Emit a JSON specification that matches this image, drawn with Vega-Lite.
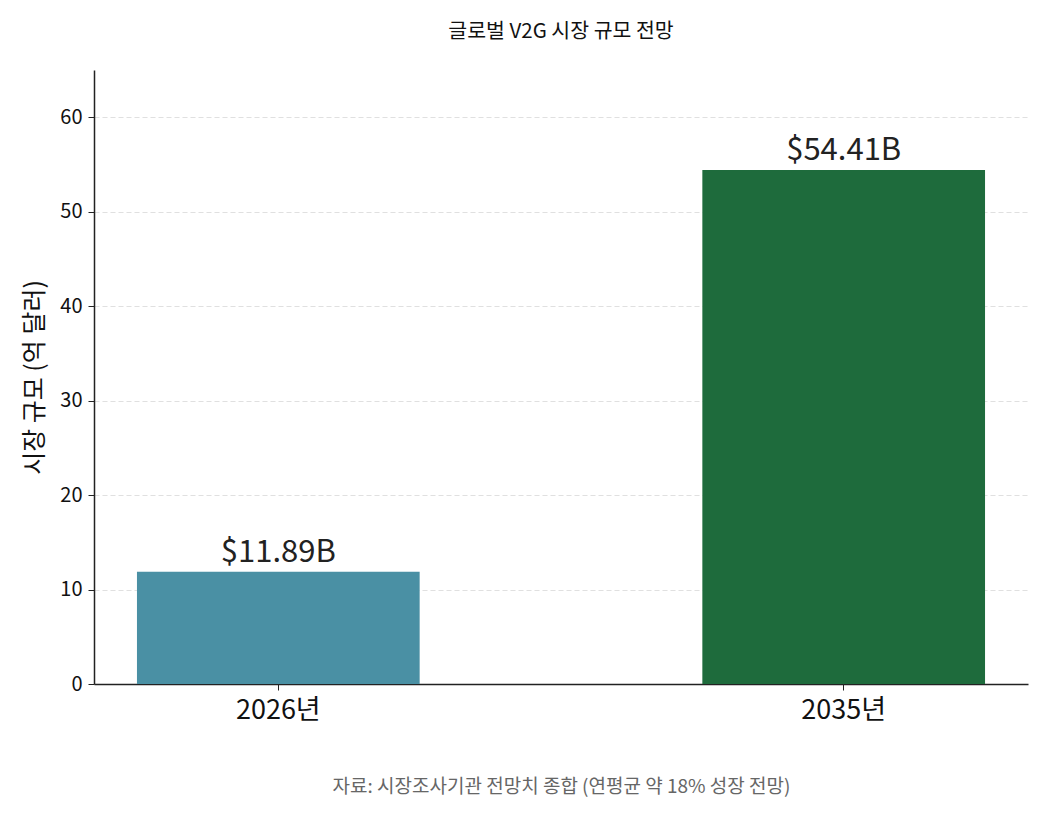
{
  "$schema": "https://vega.github.io/schema/vega-lite/v6.json",
  "autosize": "none",
  "width": 934,
  "height": 614,
  "padding": {"left": 94, "top": 70, "right": 22, "bottom": 141},
  "background": "white",
  "config": {
    "font": "Noto Sans CJK KR",
    "view": {"stroke": null}
  },
  "title": {
    "text": "글로벌 V2G 시장 규모 전망",
    "fontSize": 20.5,
    "fontWeight": "normal",
    "color": "#111111",
    "anchor": "middle",
    "frame": "group",
    "offset": 28
  },
  "data": {
    "values": [
      {"year": "2026년", "value": 11.89, "label": "$11.89B"},
      {"year": "2035년", "value": 54.41, "label": "$54.41B"}
    ]
  },
  "encoding": {
    "x": {
      "field": "year",
      "type": "nominal",
      "sort": null,
      "scale": {"paddingInner": 0.5, "paddingOuter": 0.076},
      "axis": {
        "title": "자료: 시장조사기관 전망치 종합 (연평균 약 18% 성장 전망)",
        "titleFontSize": 19,
        "titleFontWeight": "normal",
        "titleColor": "#666666",
        "titlePadding": 54,
        "labelAngle": 0,
        "labelFontSize": 27,
        "labelColor": "#111111",
        "labelPadding": 7,
        "tickSize": 6,
        "tickColor": "#222222",
        "domainColor": "#222222",
        "domainWidth": 1.5,
        "grid": false
      }
    },
    "y": {
      "field": "value",
      "type": "quantitative",
      "scale": {"domain": [0, 65], "nice": false},
      "axis": {
        "title": "시장 규모 (억 달러)",
        "titleFontSize": 25,
        "titleFontWeight": "normal",
        "titleColor": "#111111",
        "titlePadding": 12,
        "values": [0, 10, 20, 30, 40, 50, 60],
        "labelFontSize": 20,
        "labelColor": "#111111",
        "labelPadding": 6,
        "tickSize": 6,
        "tickColor": "#222222",
        "domainColor": "#222222",
        "domainWidth": 1.5,
        "grid": true,
        "gridColor": "#e0e0e0",
        "gridDash": [5, 3],
        "gridWidth": 1.2
      }
    }
  },
  "layer": [
    {
      "mark": {"type": "bar"},
      "encoding": {
        "color": {
          "field": "year",
          "type": "nominal",
          "scale": {"domain": ["2026년", "2035년"], "range": ["#4a90a4", "#1e6b3c"]},
          "legend": null
        }
      }
    },
    {
      "mark": {"type": "text", "baseline": "bottom", "dy": -3, "fontSize": 31, "color": "#222222"},
      "encoding": {
        "text": {"field": "label"}
      }
    }
  ]
}
